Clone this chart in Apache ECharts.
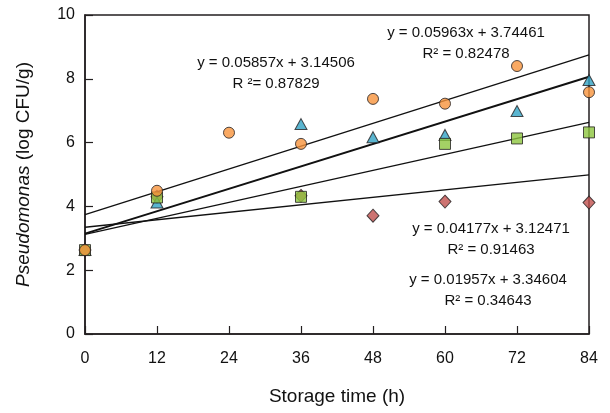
<!DOCTYPE html>
<html>
<head>
<meta charset="utf-8">
<script src="https://cdn.jsdelivr.net/npm/echarts@6/dist/echarts.min.js"></script>
<style>
  html, body { margin: 0; padding: 0; background: #fff; }
  #chart { width: 610px; height: 413px; }
</style>
</head>
<body>
<div id="chart"></div>
<script>
// Storage times (h) and Pseudomonas counts (log CFU/g) for each sample group
const timeTicks = [0, 12, 24, 36, 48, 60, 72, 84];

const circleTimes = [0, 12, 24, 36, 48, 60, 72, 84];
const circleCounts = [2.63, 4.49, 6.31, 5.96, 7.37, 7.22, 8.40, 7.58];

const triangleTimes = [0, 12, 36, 48, 60, 72, 84];
const triangleCounts = [2.63, 4.12, 6.58, 6.17, 6.24, 6.99, 7.96];

const squareTimes = [0, 12, 36, 60, 72, 84];
const squareCounts = [2.63, 4.28, 4.30, 5.96, 6.13, 6.32];

const diamondTimes = [0, 12, 36, 48, 60, 84];
const diamondCounts = [2.63, 4.30, 4.33, 3.71, 4.15, 4.12];

// Linear fits: y = slope * x + intercept
const fitSlopes = [0.05963, 0.05857, 0.04177, 0.01957];
const fitIntercepts = [3.74461, 3.14506, 3.12471, 3.34604];
const fitR2 = ['0.82478', '0.87829', '0.91463', '0.34643'];
const fitWidths = [1.3, 1.9, 1.3, 1.3];

const FONT = '"Liberation Sans", Arial, sans-serif';
const INK = '#231f20';

function pairs(xs, ys) { return xs.map((x, i) => [x, ys[i]]); }

const xMin = timeTicks[0];
const xMax = timeTicks[timeTicks.length - 1];

const fitSeries = fitSlopes.map((m, i) => ({
  type: 'line',
  data: [[xMin, fitIntercepts[i] + m * xMin], [xMax, fitIntercepts[i] + m * xMax]],
  symbol: 'none',
  silent: true,
  z: 2,
  lineStyle: { color: '#111', width: fitWidths[i] }
}));

const markerStyle = (color) => ({ color: color, borderColor: INK, borderWidth: 1 });

const scatterSeries = [
  { type: 'scatter', data: pairs(diamondTimes, diamondCounts), symbol: 'diamond', symbolSize: [12, 13], itemStyle: markerStyle('#c0504d'), z: 3 },
  { type: 'scatter', data: pairs(triangleTimes, triangleCounts), symbol: 'triangle', symbolSize: [12, 11], itemStyle: markerStyle('#31a2c4'), z: 4 },
  { type: 'scatter', data: pairs(squareTimes, squareCounts), symbol: 'rect', symbolSize: 11, itemStyle: markerStyle('#8dc63f'), z: 5 },
  { type: 'scatter', data: pairs(circleTimes, circleCounts), symbol: 'circle', symbolSize: 11, itemStyle: markerStyle('#f7933c'), z: 6 }
];

function fmtEq(i) {
  return 'y = ' + fitSlopes[i].toFixed(5) + 'x + ' + fitIntercepts[i].toFixed(5);
}

// Equation annotations (centre x, centre y of the first line)
const eqBoxes = [
  { i: 0, cx: 466, cy: 33, r: 'R² = ' },
  { i: 1, cx: 276, cy: 63, r: 'R ²= ' },
  { i: 2, cx: 491, cy: 229, r: 'R² = ' },
  { i: 3, cx: 488, cy: 280, r: 'R² = ' }
];

const graphics = [];
eqBoxes.forEach(b => {
  graphics.push({
    type: 'text', x: b.cx, y: b.cy, silent: true,
    style: { text: fmtEq(b.i), font: '15px ' + FONT, fill: '#111', textAlign: 'center', textVerticalAlign: 'middle' }
  });
  graphics.push({
    type: 'text', x: b.cx, y: b.cy + 21, silent: true,
    style: { text: b.r + fitR2[b.i], font: '15px ' + FONT, fill: '#111', textAlign: 'center', textVerticalAlign: 'middle' }
  });
});

const chart = echarts.init(document.getElementById('chart'), null, { renderer: 'canvas' });
chart.setOption({
  animation: false,
  backgroundColor: '#fff',
  grid: {
    left: 85, right: 21, top: 15, bottom: 79,
    show: true, borderColor: INK, borderWidth: 1.5, backgroundColor: 'transparent'
  },
  xAxis: {
    type: 'value', min: xMin, max: xMax, interval: 12,
    name: 'Storage time (h)', nameLocation: 'middle', nameGap: 53,
    nameTextStyle: { fontFamily: FONT, fontSize: 19, color: '#111' },
    axisLine: { show: true, onZero: false, lineStyle: { color: INK, width: 1.5 } },
    axisTick: { show: true, inside: true, length: 8, lineStyle: { color: INK, width: 1.2 } },
    axisLabel: { fontFamily: FONT, fontSize: 16, color: '#111', margin: 17 },
    splitLine: { show: false }
  },
  yAxis: {
    type: 'value', min: 0, max: 10, interval: 2,
    name: '{i|Pseudomonas} (log CFU/g)', nameLocation: 'middle', nameGap: 52,
    nameTextStyle: {
      fontFamily: FONT, fontSize: 19, color: '#111',
      rich: {
        i: { fontFamily: FONT, fontSize: 19, fontStyle: 'italic', color: '#111' }
      }
    },
    axisLine: { show: true, onZero: false, lineStyle: { color: INK, width: 1.5 } },
    axisTick: { show: true, inside: true, length: 8, lineStyle: { color: INK, width: 1.2 } },
    axisLabel: { fontFamily: FONT, fontSize: 16, color: '#111', margin: 10 },
    splitLine: { show: false }
  },
  graphic: graphics,
  series: fitSeries.concat(scatterSeries)
});
</script>
</body>
</html>
